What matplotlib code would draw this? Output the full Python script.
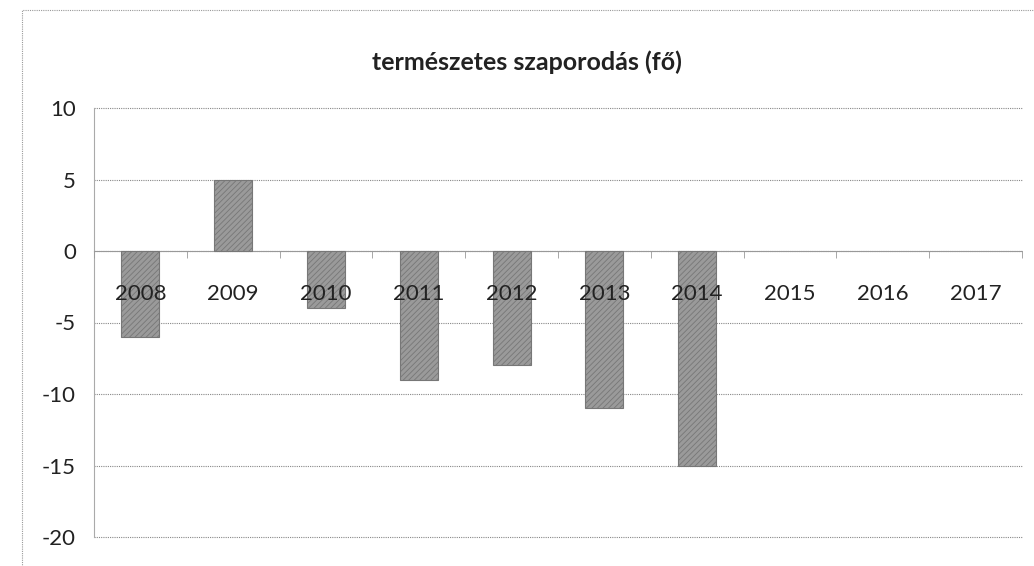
import matplotlib
matplotlib.use("Agg")
import matplotlib.pyplot as plt
from matplotlib.patches import Rectangle
import numpy as np

years = ["2008", "2009", "2010", "2011", "2012", "2013", "2014", "2015", "2016", "2017"]
values = [-6, 5, -4, -9, -8, -11, -15, np.nan, np.nan, np.nan]
yticks = [10, 5, 0, -5, -10, -15, -20]
title = "természetes szaporodás (fő)"

plt.rcParams['font.family'] = ['Lato', 'DejaVu Sans']
plt.rcParams['hatch.color'] = '#757575'
plt.rcParams['hatch.linewidth'] = 0.6

fig = plt.figure(figsize=(10.34, 5.66), dpi=100)
ax = fig.add_axes([94/1034, 1-537/566, (1022-94)/1034, (537-108)/566])

x = np.arange(len(years))
ax.bar(x, values, width=0.41, color='#9a9a9a', edgecolor='#777777', linewidth=0.8,
       hatch='//////', zorder=3)

ax.set_xlim(-0.5, len(years) - 0.5)
ax.set_ylim(-20, 10)
ax.set_yticks(yticks)
ax.set_yticklabels([str(v) for v in yticks])
ax.tick_params(axis='y', length=0, pad=13, labelsize=16, labelcolor='#222222')
ax.yaxis.grid(True, linestyle=(0, (1, 1)), color='#888888', linewidth=0.8, zorder=0)
for gl in ax.get_ygridlines():
    gl.set_clip_on(False)

ax.set_xticks(x)
ax.set_xticklabels(years)
ax.set_xticks(np.arange(len(years) + 1) - 0.5, minor=True)
ax.tick_params(axis='x', which='major', length=0, pad=24, labelsize=16, labelcolor='#222222')
ax.tick_params(axis='x', which='minor', length=5, color='#999999', direction='out')
ax.xaxis.set_zorder(5)

for s in ['top', 'right']:
    ax.spines[s].set_visible(False)
ax.spines['bottom'].set_position(('data', 0))
ax.spines['bottom'].set_color('#999999')
ax.spines['bottom'].set_linestyle((0, (1, 1)))
ax.spines['bottom'].set_linewidth(0.8)
ax.spines['left'].set_color('#aaaaaa')
ax.spines['left'].set_linewidth(0.8)

fig.text(527/1034, 1-62/566, title, ha='center', va='center', fontsize=18,
         fontweight='bold', color='#222222')

border = Rectangle((22/1034, -0.05), 1.1, 1-10/566 + 0.05, transform=fig.transFigure,
                   fill=False, edgecolor='#999999', linewidth=0.8, linestyle=(0, (1, 1)))
fig.patches.append(border)

fig.savefig("out.png", dpi=100, facecolor='white')
